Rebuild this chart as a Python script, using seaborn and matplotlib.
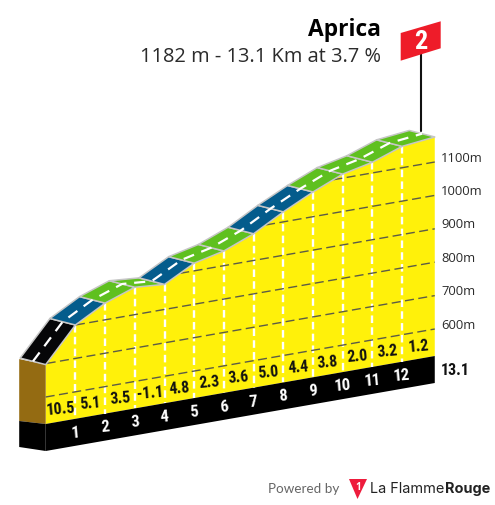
"""Aprica climb profile"""
import numpy as np
import pandas as pd
import matplotlib.pyplot as plt
import seaborn as sns
from matplotlib.patches import Polygon

km = [0, 1, 2, 3, 4, 5, 6, 7, 8, 9, 10, 11, 12, 13.1]
elevation = [697, 800, 850, 882, 875, 923, 944, 980, 1030, 1074, 1112, 1132, 1164, 1175]
gradients = [10.5, 5.1, 3.5, -1.1, 4.8, 2.3, 3.6, 5.0, 4.4, 3.8, 2.0, 3.2, 1.2]
km_labels = [1, 2, 3, 4, 5, 6, 7, 8, 9, 10, 11, 12]
grid_levels = [600, 700, 800, 900, 1000, 1100]

YELLOW = '#fff10a'
ROAD_EDGE = '#c6c6c6'
DARK = '#2b2b2b'

# oblique projection, everything in image pixels
X0, PX_KM = 45.7, 29.7
Y600, RISE_KM, PX_M = 398, 5.19, 0.334
BAND_TOP, BAND_H = 425, 27
BACK = (-25.5, -6.5)


def base_y(k):
    return BAND_TOP - RISE_KM * np.asarray(k, dtype=float)


def px(k):
    return X0 + PX_KM * np.asarray(k, dtype=float)


def py(k, e):
    return Y600 - RISE_KM * np.asarray(k, dtype=float) - PX_M * (np.asarray(e, dtype=float) - 600)


def road_color(g):
    if g >= 9:
        return '#060608'
    if g >= 4:
        return '#045c8c'
    return '#5fc01f'


sns.set_theme(style='white')
plt.rcParams['font.family'] = ['Open Sans', 'DejaVu Sans']
narrow = ['Roboto Condensed', 'Roboto', 'DejaVu Sans']

fig = plt.figure(figsize=(4.95, 5.06), dpi=100)
ax = fig.add_axes([0, 0, 1, 1])
ax.set_xlim(0, 495); ax.set_ylim(506, 0); ax.axis('off')

xs, ys = px(km), py(km, elevation)
xb = px([0, km[-1]])

# yellow face and black band
ax.fill(list(xs) + [xb[1], xb[0]], list(ys) + list(base_y([km[-1], 0])), color=YELLOW, lw=0, zorder=1)
ax.fill([xb[0], xb[1], xb[1], xb[0]],
        [base_y(0), base_y(km[-1]), base_y(km[-1]) + BAND_H, base_y(0) + BAND_H], color='black', lw=0, zorder=2)

# left side of the block
lx = xb[0] + BACK[0] - 1
ax.add_patch(Polygon([(lx, ys[0] + BACK[1] + 1), (xb[0], ys[0]), (xb[0], base_y(0)), (lx, base_y(0) - 3)],
                     fc='#946b12', ec='none', zorder=2))
ax.add_patch(Polygon([(lx, base_y(0) - 3), (xb[0], base_y(0)), (xb[0], base_y(0) + BAND_H), (lx, base_y(0) + BAND_H - 4)],
                     fc='black', ec='none', zorder=2))

# km ticks
for k in km_labels:
    ax.plot([px(k), px(k)], [py(k, elevation[km.index(k)]), base_y(k)], color='white', lw=1.7,
            ls=(0, (3.2, 1.8)), zorder=3)
    ax.text(px(k), base_y(k) + 13, str(k), color='white', fontsize=12, fontweight='bold', family=narrow,
            ha='center', va='center', rotation=5, zorder=6)

# elevation grid, only where it sits under the profile
fine_km = np.linspace(0, km[-1], 400)
fine_el = np.interp(fine_km, km, elevation)
for level in grid_levels:
    keep = fine_el >= level
    line = pd.DataFrame({'x': px(fine_km[keep]), 'y': py(fine_km[keep], level)})
    sns.lineplot(data=line, x='x', y='y', ax=ax, color='#5c5c46', lw=1.0, linestyle=(0, (6.5, 3.2)),
                 estimator=None, sort=False, legend=False, zorder=4)
    ax.text(441, py(km[-1], level) - 5, f'{level}m', color=DARK, fontsize=9.4, ha='left', va='center', zorder=6)
ax.set_xlabel(''); ax.set_ylabel('')
ax.set_xlim(0, 495); ax.set_ylim(506, 0)

# road surface
for i, g in enumerate(gradients):
    ax.add_patch(Polygon([(xs[i], ys[i]), (xs[i + 1], ys[i + 1]),
                          (xs[i + 1] + BACK[0], ys[i + 1] + BACK[1]), (xs[i] + BACK[0], ys[i] + BACK[1])],
                         fc=road_color(g), ec=ROAD_EDGE, lw=1.1, joinstyle='round', zorder=5))
ax.plot(xs + BACK[0] / 2, ys + BACK[1] / 2, color='white', lw=1.6, ls=(0, (5, 3.5)), zorder=5.5)

# gradient labels
for i, g in enumerate(gradients):
    mid = (km[i] + km[i + 1]) / 2
    ax.text(px(mid), base_y(mid) - 13.5, f'{g:.1f}', color='#111111', fontsize=11.5, fontweight='bold', family=narrow,
            ha='center', va='center', rotation=5, zorder=6)
ax.text(441, base_y(km[-1]) + 13, '13.1', color='#111111', fontsize=11.5, fontweight='bold', family=narrow,
        ha='left', va='center', zorder=6)

# KOM flag
ax.plot([421, 421], [55, 132], color='#111111', lw=1.5, zorder=5.2)
ax.add_patch(Polygon([(400.7, 34), (440.7, 22.3), (440.7, 49.3), (400.7, 61.7)], fc='#ee1c29', ec='none', zorder=6))
ax.text(421, 42, '2', color='white', fontsize=19, fontweight='bold', family=narrow, ha='center', va='center', zorder=7)

# title
ax.text(380.5, 29.5, 'Aprica', color='black', fontsize=16.4, fontweight='bold', ha='right', va='center')
ax.text(380.5, 56.5, '1182 m - 13.1 Km at 3.7 %', color=DARK, fontsize=14.4, ha='right', va='center')

# footer
ax.text(339, 489, 'Powered by', color='#666666', fontsize=9.7, family=['Lato', 'DejaVu Sans'], ha='right', va='center')
ax.add_patch(Polygon([(349, 480), (367, 480), (357.5, 500)], fc='#ee1c3c', ec='none'))
ax.text(357.7, 487.5, '1', color='white', fontsize=7, fontweight='bold', ha='center', va='center')
ax.text(370, 489, 'La Flamme', color='#222222', fontsize=10.4, family=['Inter', 'DejaVu Sans'], ha='left', va='center')
ax.text(490, 489, 'Rouge', color='#222222', fontsize=10.4, fontweight='bold', family=['Inter', 'DejaVu Sans'], ha='right', va='center')

fig.savefig('out.png', dpi=100, facecolor='white')
